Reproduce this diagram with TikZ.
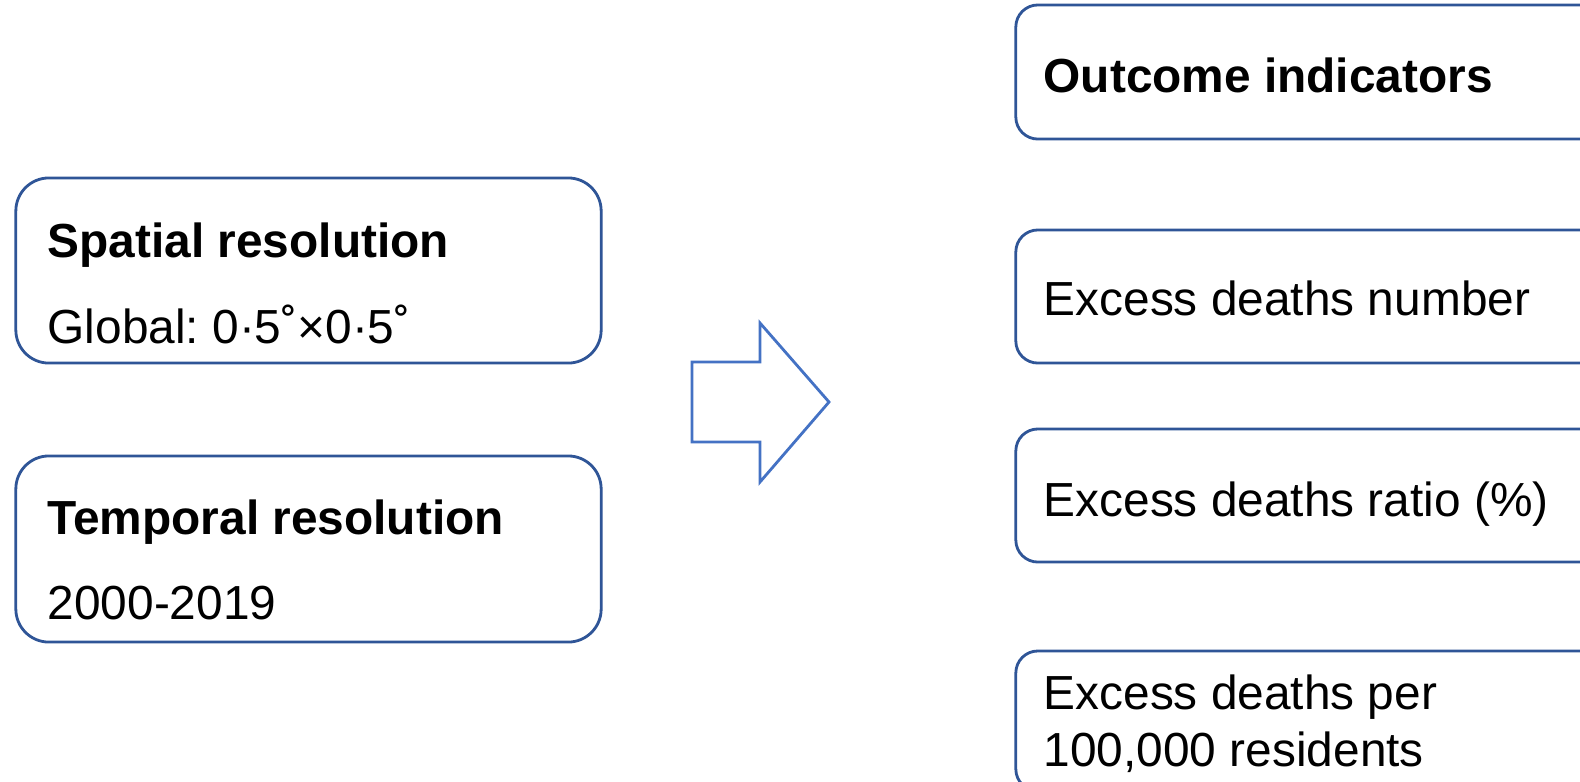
\documentclass[tikz,border=0pt]{standalone}
\usepackage{fontspec}
\setmainfont{Liberation Sans}
\usepackage{tikz}
\usetikzlibrary{positioning,calc}
\definecolor{boxBlue}{RGB}{47,85,151}
\definecolor{arrowBlue}{RGB}{68,114,196}
\frenchspacing

\begin{document}
\begin{tikzpicture}[x=0.01cm, y=-0.01cm,
  every node/.style={font=\fontsize{13.6}{16}\selectfont, inner sep=0pt},
  box/.style={draw=boxBlue, line width=0.8pt, fill=white},
  lbl/.style={anchor=base west},
  head/.style={lbl, font=\fontsize{13.6}{16}\selectfont\bfseries}]
  \path[use as bounding box, clip] (0,0) rectangle (1580,781);
  % Resolution boxes
  \node[box, rounded corners=0.33cm, minimum width=5.85cm, minimum height=1.85cm] (spatial) at (308.5,270.5) {};
  \node[head] (spatialH) at (47,257) {Spatial resolution};
  \node[lbl] (spatialT) at (47,343) {Global: 0·5˚×0·5˚};
  \node[box, rounded corners=0.33cm, minimum width=5.85cm, minimum height=1.86cm] (temporal) at (308.5,549) {};
  \node[head] (temporalH) at (47,534) {Temporal resolution};
  \node[lbl] (temporalT) at (47,619) {2000-2019};
  % Block arrow
  \draw[arrowBlue, line width=0.8pt] (692,362) -- (760,362) -- (760,323) -- (829,402)
    -- (760,482) -- (760,442) -- (692,442) -- cycle;
  % Outcome boxes
  \node[box, rounded corners=0.22cm, minimum width=7cm, minimum height=1.34cm] (outcome) at (1366,72) {};
  \node[head] (outcomeH) at (1043,92) {Outcome indicators};
  \node[box, rounded corners=0.22cm, minimum width=7cm, minimum height=1.33cm] (number) at (1366,296.5) {};
  \node[lbl] (numberT) at (1043,315) {Excess deaths number};
  \node[box, rounded corners=0.22cm, minimum width=7cm, minimum height=1.33cm] (ratio) at (1366,495.5) {};
  \node[lbl] (ratioT) at (1043,516) {Excess deaths ratio (\%)};
  \node[box, rounded corners=0.22cm, minimum width=7cm, minimum height=1.40cm] (rate) at (1366,721) {};
  \node[lbl] (rateT1) at (1043,709) {Excess deaths per};
  \node[lbl] (rateT2) at (1043,766) {100,000 residents};
\end{tikzpicture}
\end{document}
